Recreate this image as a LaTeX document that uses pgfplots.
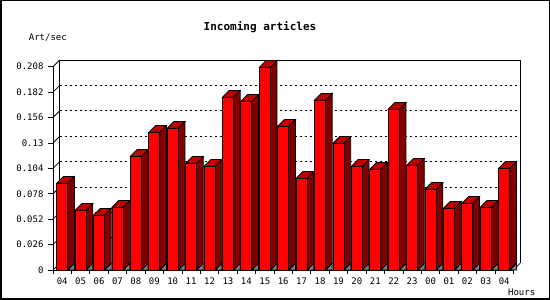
\documentclass[border=0pt]{standalone}
\usepackage{fontspec}
\setmainfont{DejaVu Sans Mono}
\setmonofont{DejaVu Sans Mono}
\usepackage{pgfplots}
\usepackage{pgfplotstable}
\pgfplotsset{compat=1.18}
\definecolor{barfront}{RGB}{255,0,0}
\definecolor{bartop}{RGB}{192,0,0}
\definecolor{barside}{RGB}{128,0,0}
\definecolor{barfloor}{RGB}{128,128,128}
\pgfdeclareplotmark{emptymark}{}
\pgfplotstableread{
x lab v
0 04 0.0887
1 05 0.0611
2 06 0.0560
3 07 0.0642
4 08 0.1164
5 09 0.1409
6 10 0.1450
7 11 0.1092
8 12 0.1061
9 13 0.1768
10 14 0.1727
11 15 0.2074
12 16 0.1471
13 17 0.0939
14 18 0.1737
15 19 0.1297
16 20 0.1061
17 21 0.1031
18 22 0.1645
19 23 0.1072
20 00 0.0826
21 01 0.0632
22 02 0.0683
23 03 0.0642
24 04 0.1041
}\arttable
\begin{document}
\begin{tikzpicture}[x=1pt,y=1pt]
\useasboundingbox (0,0) rectangle (550,300);
\fill[white] (0,0) rectangle (550,300);
\begin{axis}[
  at={(53pt,30pt)}, anchor=south west,
  x=18.417pt, y=977.4pt,
  xmin=-0.5, xmax=24.5, ymin=0, ymax=0.208,
  clip=false,
  axis x line*=bottom, axis y line*=left,
  axis line style={-, black, line width=0.8pt},
  tick align=outside,
  ytick={0,0.026,0.052,0.078,0.104,0.13,0.156,0.182,0.208},
  yticklabels={0,0.026,0.052,0.078,0.104,0.13,0.156,0.182,0.208},
  xtick={0,1,2,3,4,5,6,7,8,9,10,11,12,13,14,15,16,17,18,19,20,21,22,23,24},
  xticklabels={04,05,06,07,08,09,10,11,12,13,14,15,16,17,18,19,20,21,22,23,00,01,02,03,04},
  major x tick style={draw=none},
  minor xtick={-0.5,0.5,1.5,2.5,3.5,4.5,5.5,6.5,7.5,8.5,9.5,10.5,11.5,12.5,13.5,14.5,15.5,16.5,17.5,18.5,19.5,20.5,21.5,22.5,23.5,24.5},
  minor tick length=4pt,
  major tick length=5pt,
  tick style={black, line width=0.8pt},
  ticklabel style={font=\fontsize{9}{10}\selectfont},
  yticklabel style={xshift=-1pt},
  xticklabel style={yshift=1pt},
]
% back plane
\draw[line width=0.8pt] ([shift={(6.7pt,6.7pt)}]axis cs:-0.5,0) -- ([shift={(6.7pt,6.7pt)}]axis cs:-0.5,0.208) -- ([shift={(6.7pt,6.7pt)}]axis cs:24.5,0.208) -- ([shift={(6.7pt,6.7pt)}]axis cs:24.5,0);
\draw[line width=0.8pt] (axis cs:-0.5,0.208) -- ([shift={(6.7pt,6.7pt)}]axis cs:-0.5,0.208);
\draw[line width=0.8pt] (axis cs:-0.5,0) -- ([shift={(6.7pt,6.7pt)}]axis cs:-0.5,0);
\draw[line width=0.8pt] (axis cs:24.5,0) -- ([shift={(6.7pt,6.7pt)}]axis cs:24.5,0);
\pgfplotsinvokeforeach{0.026,0.052,0.078,0.104,0.13,0.156,0.182}{
  \draw[line width=0.8pt, dash pattern=on 2pt off 3pt] ([shift={(6.7pt,6.7pt)}]axis cs:-0.5,#1) -- ([shift={(6.7pt,6.7pt)}]axis cs:24.5,#1);
  \draw[line width=0.8pt] (axis cs:-0.5,#1) -- ([shift={(6.7pt,6.7pt)}]axis cs:-0.5,#1);
}
\addplot[
  scatter, only marks, mark=emptymark,
  visualization depends on={rawy \as \val},
  scatter/@pre marker code/.code={%
    \begin{scope}[line width=0.8pt, line join=miter, draw=black]
    \filldraw[fill=barfloor] (5.5pt,{-\val*977.4pt}) -- (12.2pt,{-\val*977.4pt}) -- (12.2pt,{6.7pt-\val*977.4pt}) -- cycle;
    \filldraw[fill=barside] (5.5pt,0pt) -- (12.2pt,6.7pt) -- (12.2pt,{6.7pt-\val*977.4pt}) -- (5.5pt,{-\val*977.4pt}) -- cycle;
    \filldraw[fill=bartop] (-5.5pt,0pt) -- (5.5pt,0pt) -- (12.2pt,6.7pt) -- (1.2pt,6.7pt) -- cycle;
    \filldraw[fill=barfront] (-5.5pt,{-\val*977.4pt}) rectangle (5.5pt,0pt);
    \end{scope}
  },
  scatter/@post marker code/.code={},
] table[x=x, y=v] {\arttable};
\end{axis}
\node[font=\bfseries\fontsize{11}{12}\selectfont] at (260,273) {Incoming articles};
\node[font=\fontsize{9}{10}\selectfont] at (47.8,262.7) {Art/sec};
\node[font=\fontsize{9}{10}\selectfont] at (521.7,7.7) {Hours};
\draw[line width=1.5pt] (0.75,0.75) rectangle (549.25,299.25);
\end{tikzpicture}
\end{document}
